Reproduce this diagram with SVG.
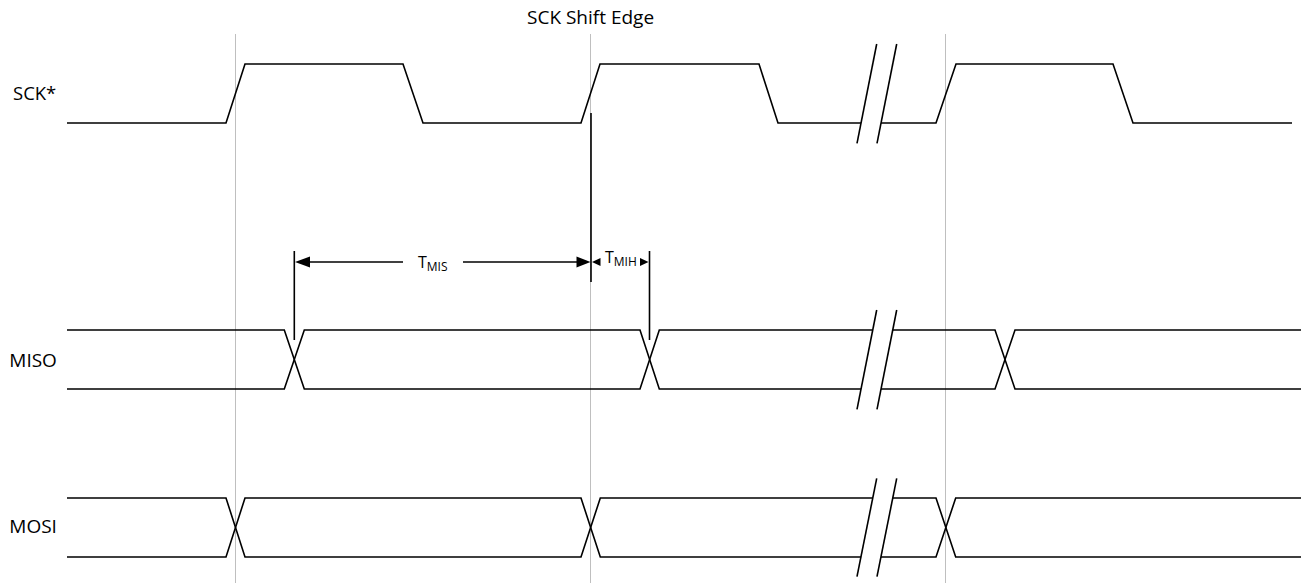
<svg xmlns="http://www.w3.org/2000/svg" width="1301" height="583" viewBox="0 0 1301 583">
<style>
.grid{stroke:#bfbfbf;stroke-width:1;fill:none}
.sig{stroke:#000;stroke-width:1.6;fill:none;stroke-linejoin:miter}
.brk{stroke:#000;stroke-width:1.6;fill:none}
.dim{stroke:#000;stroke-width:1.6;fill:none}
.head{fill:#000;stroke:none}
.lbl{font-family:"Open Sans","Liberation Sans",sans-serif;font-size:19px;fill:#000}
.t{font-family:"Open Sans","Liberation Sans",sans-serif;font-size:16px;fill:#000}
.sub{font-size:12px}
</style>
<rect width="1301" height="583" fill="#fff"/>
<g id="gridlines">
<line class="grid" x1="235.5" y1="34" x2="235.5" y2="583"/>
<line class="grid" x1="590.5" y1="34" x2="590.5" y2="583"/>
<line class="grid" x1="945.5" y1="34" x2="945.5" y2="583"/>
</g>
<g id="title">
<text class="lbl" x="527" y="24">SCK Shift Edge</text>
</g>
<g id="sck">
<text class="lbl" x="13" y="100" style="font-size:18.5px">SCK*</text>
<polyline class="sig" points="67,123 226,123 245,64 403,64 423,123 581,123 600,64 759,64 778,123 861,123"/>
<polyline class="sig" points="881,123 936,123 956,64 1113,64 1133,123 1292,123"/>
<line class="brk" x1="876.7" y1="44" x2="857" y2="143.3"/>
<line class="brk" x1="896.7" y1="44" x2="877" y2="143.3"/>
</g>
<g id="miso">
<text class="lbl" x="9.3" y="367">MISO</text>
<polyline class="sig" points="67,330 284.3,330 304.3,389 640,389 659.3,330 872.7,330"/>
<polyline class="sig" points="67,389 284.3,389 304.3,330 640,330 659.3,389 861,389"/>
<polyline class="sig" points="893,330 995,330 1015,389 1301,389"/>
<polyline class="sig" points="881,389 995,389 1015,330 1301,330"/>
<line class="brk" x1="876.7" y1="310" x2="857" y2="409.3"/>
<line class="brk" x1="896.7" y1="310" x2="877" y2="409.3"/>
</g>
<g id="mosi">
<text class="lbl" x="9.3" y="533">MOSI</text>
<polyline class="sig" points="67,498 226,498 245,557 581,557 600.3,498 872.7,498"/>
<polyline class="sig" points="67,557 226,557 245,498 581,498 600.3,557 861,557"/>
<polyline class="sig" points="893,498 936,498 955.7,557 1301,557"/>
<polyline class="sig" points="881,557 936,557 955.7,498 1301,498"/>
<line class="brk" x1="876.7" y1="478.3" x2="857" y2="576.7"/>
<line class="brk" x1="896.7" y1="478.3" x2="877" y2="576.7"/>
</g>
<g id="connectors">
<line class="dim" x1="591" y1="113" x2="591" y2="282"/>
<line class="dim" x1="294.3" y1="251" x2="294.3" y2="340"/>
<line class="dim" x1="649.5" y1="251" x2="649.5" y2="340"/>
<line class="dim" x1="308" y1="262" x2="403" y2="262"/>
<polygon class="head" points="295,262 310,256.5 310,267.5"/>
<line class="dim" x1="463" y1="262" x2="579" y2="262"/>
<polygon class="head" points="590.5,262 576.5,256.5 576.5,267.5"/>
<polygon class="head" points="592,262 600.5,258 600.5,266"/>
<polygon class="head" points="648.5,262 640,258 640,266"/>
</g>
<g id="tmis">
<text class="t" x="418" y="268">T<tspan class="sub" dy="3">MIS</tspan></text>
</g>
<g id="tmih">
<text class="t" x="605" y="263">T<tspan class="sub" dy="3">MIH</tspan></text>
</g>
</svg>
